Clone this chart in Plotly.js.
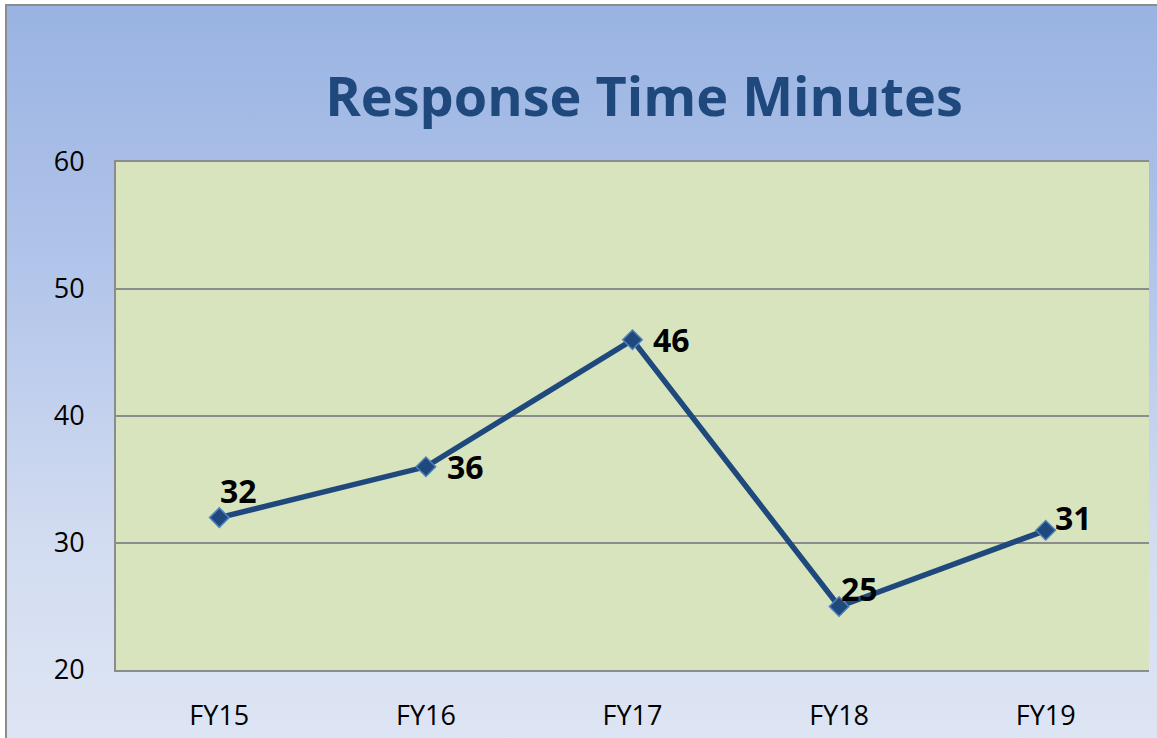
<!DOCTYPE html>
<html>
<head>
<meta charset="utf-8">
<script src="https://cdn.plot.ly/plotly-3.0.1.min.js"></script>
<style>
  html, body { margin: 0; padding: 0; background: #ffffff; width: 1157px; height: 738px; overflow: hidden; }
  #frame { position: absolute; left: 5px; top: 4px; width: 1170px; height: 760px;
           border: 2px solid #8c8c8c;
           background: linear-gradient(to bottom, #99B3E2 0%, #B2C5EA 35%, #D2DCF1 70%, #DFE6F4 100%); }
  #chart { position: absolute; left: 0; top: 0; width: 1157px; height: 738px; }
</style>
</head>
<body>
<div id="frame"></div>
<div id="chart"></div>
<script>
const categories = ["FY15", "FY16", "FY17", "FY18", "FY19"];
const responseMinutes = [32, 36, 46, 25, 31];
const yTicks = [20, 30, 40, 50, 60];
const chartTitle = "Response Time Minutes";

// label offsets (style, pixels)
const labelShiftX = [19, 40, 39, 20, 28];
const labelShiftY = [27, 0, 0, 18, 13];

const trace = {
  x: categories,
  y: responseMinutes,
  type: "scatter",
  mode: "lines+markers",
  line: { color: "#1F497D", width: 5.5 },
  marker: { symbol: "diamond", size: 15, color: "#1F497D", line: { color: "#4F81BD", width: 1.5 } },
  hoverinfo: "skip"
};

const annotations = categories.map((c, i) => ({
  x: c, y: responseMinutes[i], xref: "x", yref: "y",
  text: String(responseMinutes[i]), showarrow: false,
  xshift: labelShiftX[i], yshift: labelShiftY[i],
  font: { family: "Open Sans, sans-serif", size: 32, color: "#000000", weight: "bold" }
}));

const layout = {
  width: 1157, height: 738,
  paper_bgcolor: "rgba(0,0,0,0)",
  plot_bgcolor: "#D7E4BD",
  margin: { l: 116, r: 8, t: 162, b: 68, pad: 0 },
  showlegend: false,
  title: {
    text: "<b>" + chartTitle + "</b>",
    font: { family: "Open Sans, sans-serif", size: 54, color: "#1F497D" },
    xref: "container", yref: "container",
    x: 644 / 1157, xanchor: "center",
    y: 1 - 97 / 738, yanchor: "middle"
  },
  xaxis: {
    type: "category",
    range: [-0.5, 4.5],
    showgrid: false,
    showline: true, linecolor: "#8c8c8c", linewidth: 2, mirror: true,
    ticks: "", ticklabelstandoff: 21,
    tickfont: { family: "Open Sans, sans-serif", size: 27, color: "#000000" },
    zeroline: false, fixedrange: true
  },
  yaxis: {
    range: [20, 60],
    tickvals: yTicks,
    showgrid: true, gridcolor: "#8c8c8c", gridwidth: 1.5,
    showline: true, linecolor: "#8c8c8c", linewidth: 2,
    ticks: "", ticklabelstandoff: 24,
    tickfont: { family: "Open Sans, sans-serif", size: 27, color: "#000000" },
    zeroline: false, fixedrange: true
  },
  annotations: annotations
};

Plotly.newPlot("chart", [trace], layout, { displayModeBar: false, staticPlot: true });
</script>
</body>
</html>
